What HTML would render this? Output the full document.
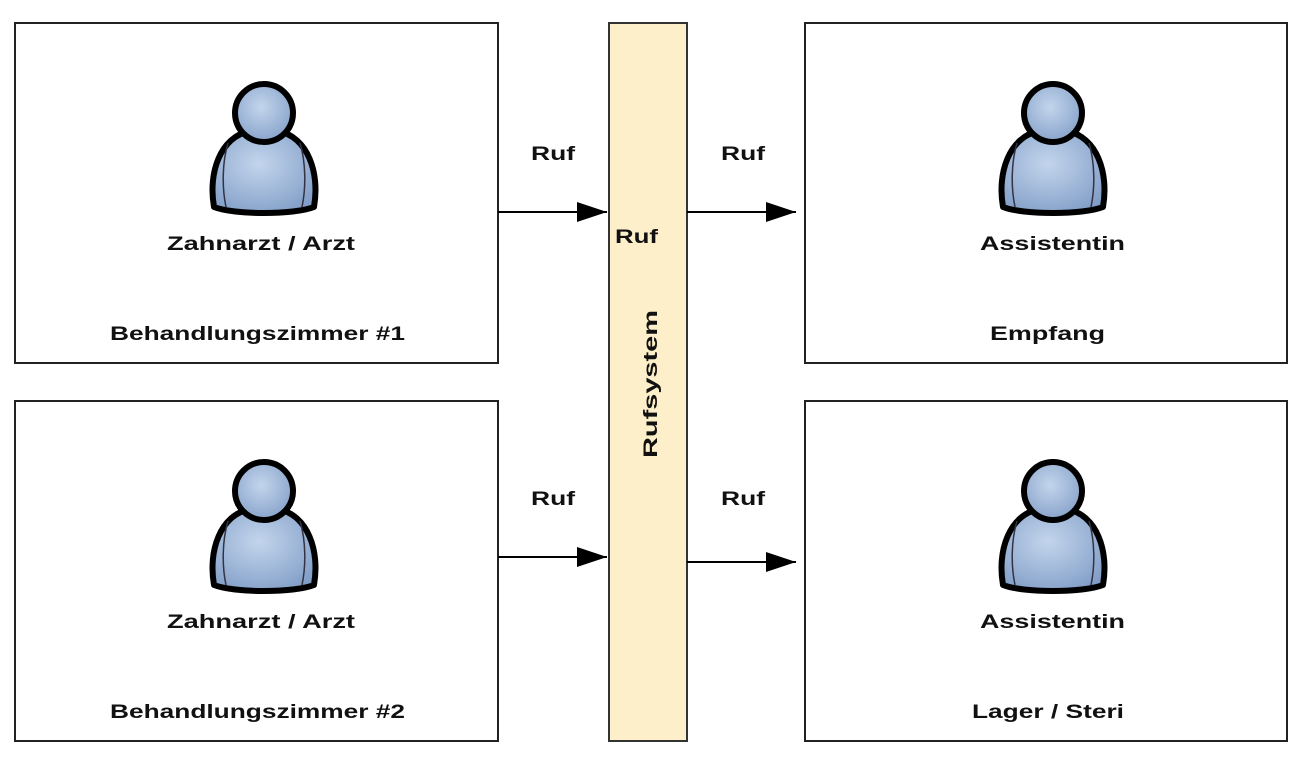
<!DOCTYPE html>
<html><head><meta charset="utf-8"><style>
html,body{margin:0;padding:0;background:#fff;}
svg text{font-family:"Liberation Sans",sans-serif;font-weight:bold;font-size:19px;fill:#111;}
</style></head><body>
<svg width="1304" height="768" viewBox="0 0 1304 768" xmlns="http://www.w3.org/2000/svg">
<defs>
<radialGradient id="g" cx="0.45" cy="0.4" r="0.7">
<stop offset="0" stop-color="#c3d5ec"/><stop offset="1" stop-color="#7f9cc6"/>
</radialGradient>
<g id="p">
<path d="M-50,94 C-56,60 -44,24 -14,18 L14,18 C44,24 56,60 50,94 C30,102 -30,102 -50,94 Z" fill="url(#g)" stroke="#000" stroke-width="6" stroke-linejoin="round"/>
<path d="M-36,30 C-42,50 -42,75 -38,94 M36,30 C42,50 42,75 38,94" fill="none" stroke="#334" stroke-width="1.5"/>
<circle cx="0" cy="0" r="29" fill="url(#g)" stroke="#000" stroke-width="6"/>
</g>
<marker id="a" viewBox="0 0 30 20" refX="30" refY="10" markerWidth="30" markerHeight="20" markerUnits="userSpaceOnUse" orient="auto">
<path d="M0,0 L30,10 L0,20 Z" fill="#000"/></marker>
</defs>
<g fill="#fff" stroke="#222" stroke-width="2">
<rect x="15" y="23" width="483" height="340"/>
<rect x="15" y="401" width="483" height="340"/>
<rect x="805" y="23" width="482" height="340"/>
<rect x="805" y="401" width="482" height="340"/>
</g>
<rect x="609" y="23" width="78" height="718" fill="#fdefc9" stroke="#333" stroke-width="2"/>
<use href="#p" x="264" y="113"/>
<use href="#p" x="264" y="491"/>
<use href="#p" x="1053" y="113"/>
<use href="#p" x="1053" y="491"/>
<g stroke="#000" stroke-width="2" fill="none">
<line x1="498" y1="212" x2="607" y2="212" marker-end="url(#a)"/>
<line x1="687" y1="212" x2="796" y2="212" marker-end="url(#a)"/>
<line x1="498" y1="557" x2="607" y2="557" marker-end="url(#a)"/>
<line x1="687" y1="562" x2="796" y2="562" marker-end="url(#a)"/>
</g>
<g lengthAdjust="spacingAndGlyphs">
<text x="167" y="250" textLength="188" lengthAdjust="spacingAndGlyphs">Zahnarzt / Arzt</text>
<text x="110" y="340" textLength="295" lengthAdjust="spacingAndGlyphs">Behandlungszimmer #1</text>
<text x="167" y="628" textLength="188" lengthAdjust="spacingAndGlyphs">Zahnarzt / Arzt</text>
<text x="110" y="718" textLength="295" lengthAdjust="spacingAndGlyphs">Behandlungszimmer #2</text>
<text x="980" y="250" textLength="145" lengthAdjust="spacingAndGlyphs">Assistentin</text>
<text x="990" y="340" textLength="115" lengthAdjust="spacingAndGlyphs">Empfang</text>
<text x="980" y="628" textLength="145" lengthAdjust="spacingAndGlyphs">Assistentin</text>
<text x="972" y="718" textLength="152" lengthAdjust="spacingAndGlyphs">Lager / Steri</text>
<text x="531" y="160" textLength="44" lengthAdjust="spacingAndGlyphs">Ruf</text>
<text x="721" y="160" textLength="44" lengthAdjust="spacingAndGlyphs">Ruf</text>
<text x="531" y="505" textLength="44" lengthAdjust="spacingAndGlyphs">Ruf</text>
<text x="721" y="505" textLength="44" lengthAdjust="spacingAndGlyphs">Ruf</text>
<text x="615" y="243" textLength="43" lengthAdjust="spacingAndGlyphs">Ruf</text>
<text x="0" y="0" transform="translate(657,458) rotate(-90)" font-size="21" textLength="148" lengthAdjust="spacingAndGlyphs">Rufsystem</text>
</g>
</svg>
</body></html>
